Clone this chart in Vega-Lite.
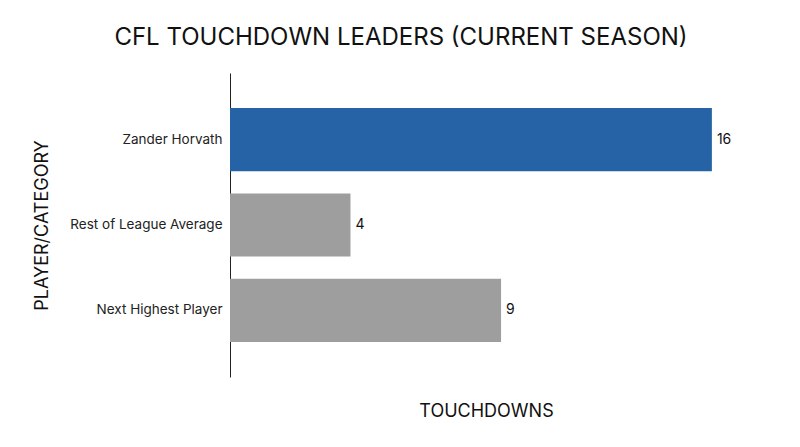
{
  "$schema": "https://vega.github.io/schema/vega-lite/v6.json",
  "width": 512,
  "height": 304,
  "autosize": {"type": "none"},
  "padding": {"left": 230, "top": 73, "right": 58, "bottom": 70},
  "background": "white",
  "config": {"view": {"stroke": null}, "font": "Inter"},
  "title": {
    "text": "CFL TOUCHDOWN LEADERS (CURRENT SEASON)",
    "fontSize": 24,
    "fontWeight": "normal",
    "color": "#111111",
    "dx": -85,
    "offset": 23
  },
  "data": {
    "values": [
      {"category": "Zander Horvath", "touchdowns": 16, "group": "player"},
      {"category": "Rest of League Average", "touchdowns": 4, "group": "other"},
      {"category": "Next Highest Player", "touchdowns": 9, "group": "other"}
    ]
  },
  "encoding": {
    "y": {
      "field": "category",
      "type": "nominal",
      "sort": null,
      "title": "PLAYER/CATEGORY",
      "scale": {"paddingInner": 0.26, "paddingOuter": 0.41},
      "axis": {
        "domainColor": "#222222",
        "ticks": false,
        "labelFontSize": 13.5,
        "labelColor": "#222222",
        "labelPadding": 8,
        "titleFontSize": 18,
        "titleFontWeight": "normal",
        "titleColor": "#111111",
        "titleX": -188,
        "titleY": 152,
        "titleAngle": -90,
        "titleAlign": "center",
        "titleBaseline": "middle"
      }
    },
    "x": {
      "field": "touchdowns",
      "type": "quantitative",
      "title": "TOUCHDOWNS",
      "scale": {"domain": [0, 17], "nice": false},
      "axis": {
        "domain": false,
        "ticks": false,
        "labels": false,
        "grid": false,
        "titleFontSize": 18,
        "titleFontWeight": "normal",
        "titleColor": "#111111",
        "titleY": 34,
        "titleBaseline": "middle"
      }
    }
  },
  "layer": [
    {
      "mark": {"type": "bar"},
      "encoding": {
        "color": {
          "field": "group",
          "type": "nominal",
          "scale": {"domain": ["player", "other"], "range": ["#2563a6", "#9e9e9e"]},
          "legend": null
        }
      }
    },
    {
      "mark": {"type": "text", "align": "left", "dx": 5, "fontSize": 14, "color": "#111111"},
      "encoding": {"text": {"field": "touchdowns", "type": "quantitative"}}
    }
  ]
}
